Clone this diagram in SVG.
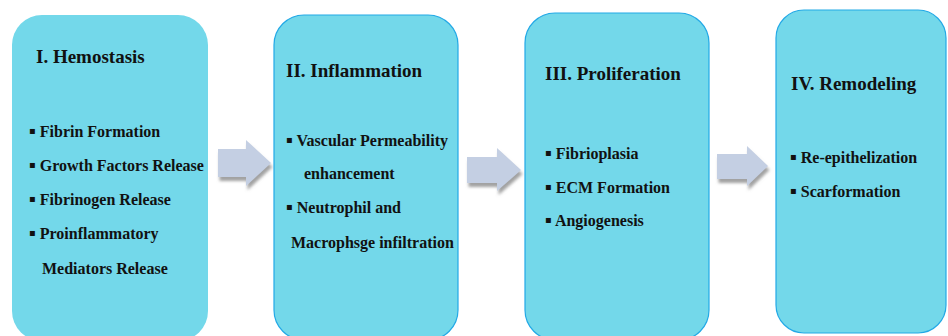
<svg xmlns="http://www.w3.org/2000/svg" width="948" height="336" viewBox="0 0 948 336">
<defs>
<style>
.box{fill:#73d8ea;stroke:#22a9e6;stroke-width:1.2}
.b1{fill:#73d8ea}
text{font-family:"Liberation Serif","Times New Roman",serif;font-weight:bold;fill:#111}
.h{font-size:19px}
.s{font-size:16px}
.bl{font-family:"DejaVu Sans",sans-serif;font-size:10px}
.arr{fill:#c4cfe3}
</style>
<filter id="sh" x="-20%" y="-20%" width="150%" height="160%">
<feDropShadow dx="1.5" dy="4" stdDeviation="1.5" flood-color="#8a8a8a" flood-opacity="0.8"/>
</filter>
</defs>
<rect width="948" height="336" fill="#ffffff"/>
<g id="connectors">
<polygon class="arr" filter="url(#sh)" points="218,149 246,149 246,140 271,163 246,186 246,177 218,177"/>
<polygon class="arr" filter="url(#sh)" points="467,157 497,157 497,148 521,170 497,191 497,183 467,183"/>
<polygon class="arr" filter="url(#sh)" points="717,154 747,154 747,146 768,166 747,186 747,179 717,179"/>
</g>
<g id="hemostasis">
<rect class="b1" x="12" y="15" width="196" height="326" rx="30"/>
<text class="h" x="36" y="63">I. Hemostasis</text>
<text class="s" x="29" y="137"><tspan class="bl" dy="-3">▪</tspan><tspan dy="3"> Fibrin Formation</tspan></text>
<text class="s" x="29" y="171"><tspan class="bl" dy="-3">▪</tspan><tspan dy="3"> Growth Factors Release</tspan></text>
<text class="s" x="29" y="205"><tspan class="bl" dy="-3">▪</tspan><tspan dy="3"> Fibrinogen Release</tspan></text>
<text class="s" x="29" y="239"><tspan class="bl" dy="-3">▪</tspan><tspan dy="3"> Proinflammatory</tspan></text>
<text class="s" x="42" y="274">Mediators Release</text>
</g>
<g id="inflammation">
<rect class="box" x="274" y="15" width="184" height="325" rx="30"/>
<text class="h" x="286" y="77">II. Inflammation</text>
<text class="s" x="286" y="146"><tspan class="bl" dy="-3">▪</tspan><tspan dy="3"> Vascular Permeability</tspan></text>
<text class="s" x="304" y="179">enhancement</text>
<text class="s" x="286" y="213"><tspan class="bl" dy="-3">▪</tspan><tspan dy="3"> Neutrophil and</tspan></text>
<text class="s" x="291" y="248">Macrophsge infiltration</text>
</g>
<g id="proliferation">
<rect class="box" x="525" y="13" width="184" height="327" rx="30"/>
<text class="h" x="545" y="80">III. Proliferation</text>
<text class="s" x="545" y="159"><tspan class="bl" dy="-3">▪</tspan><tspan dy="3"> Fibrioplasia</tspan></text>
<text class="s" x="545" y="193"><tspan class="bl" dy="-3">▪</tspan><tspan dy="3"> ECM Formation</tspan></text>
<text class="s" x="545" y="226"><tspan class="bl" dy="-3">▪</tspan><tspan dy="3"> Angiogenesis</tspan></text>
</g>
<g id="remodeling">
<rect class="box" x="776" y="10" width="170" height="323" rx="28"/>
<text class="h" x="791" y="90">IV. Remodeling</text>
<text class="s" x="790" y="163"><tspan class="bl" dy="-3">▪</tspan><tspan dy="3"> Re-epithelization</tspan></text>
<text class="s" x="790" y="197"><tspan class="bl" dy="-3">▪</tspan><tspan dy="3"> Scarformation</tspan></text>
</g>
</svg>
